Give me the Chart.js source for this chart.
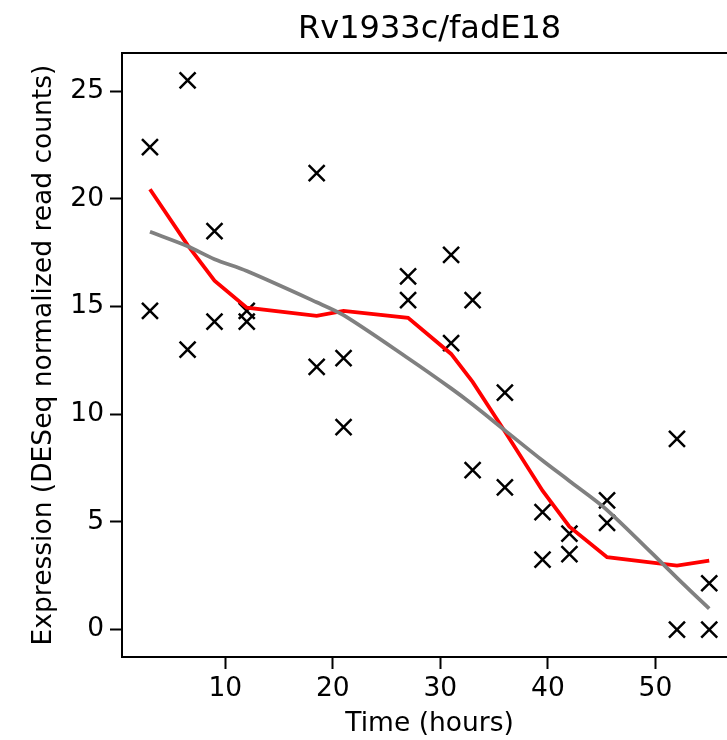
<!DOCTYPE html>
<html>
<head>
<meta charset="utf-8">
<script src="https://cdn.jsdelivr.net/npm/chart.js@4.4.1/dist/chart.umd.min.js"></script>
<style>
  html, body { margin: 0; padding: 0; background: #fff; overflow: hidden; }
  #wrap { width: 751px; height: 740px; }
</style>
</head>
<body>
<div id="wrap"><canvas id="chart" width="751" height="740"></canvas></div>
<script>
// sample times (hours)
const timeHours = [3, 6.5, 9, 12, 18.5, 21, 27, 31, 33, 36, 39.5, 42, 45.5, 52, 55];
// two replicates of expression per time point
const replicateA = [22.4, 25.5, 18.5, 14.8, 21.2, 12.6, 16.4, 17.4, 15.3, 11.0, 5.45, 4.45, 6.0, 8.85, 2.15];
const replicateB = [14.8, 13.0, 14.3, 14.3, 12.2, 9.4, 15.3, 13.3, 7.4, 6.6, 3.25, 3.5, 4.95, 0, 0];
// smoothed fit (red) and trend fit (gray)
const smoothFit = [20.45, 17.85, 16.2, 14.95, 14.57, 14.8, 14.48, 12.8, 11.5, 9.2, 6.45, 4.78, 3.36, 2.97, 3.2];
const trendFit = [18.47, 17.8, 17.2, 16.65, 15.2, 14.6, 12.6, 11.2, 10.45, 9.25, 7.85, 6.9, 5.55, 2.4, 0.97];

const xTicks = [10, 20, 30, 40, 50];
const yTicks = [0, 5, 10, 15, 20, 25];

const toPoints = (xs, ys) => xs.map((x, i) => ({ x: x, y: ys[i] }));

const scatterPts = toPoints(timeHours, replicateA).concat(toPoints(timeHours, replicateB));

const font = { family: 'DejaVu Sans', size: 26.5 };

// top/right spines like matplotlib
const frame = {
  id: 'frame',
  afterDraw(chart) {
    const { ctx, chartArea: a } = chart;
    ctx.save();
    ctx.strokeStyle = '#000';
    ctx.lineWidth = 2;
    ctx.beginPath();
    ctx.moveTo(a.left, a.top);
    ctx.lineTo(a.right, a.top);
    ctx.lineTo(a.right, a.bottom);
    ctx.stroke();
    ctx.restore();
  }
};

new Chart(document.getElementById('chart').getContext('2d'), {
  type: 'scatter',
  data: {
    datasets: [
      {
        label: 'replicates',
        data: scatterPts,
        pointStyle: 'crossRot',
        pointRadius: 11.3,
        pointHoverRadius: 11.3,
        borderColor: '#000',
        borderWidth: 2.5,
        order: 3
      },
      {
        label: 'smooth',
        type: 'line',
        data: toPoints(timeHours, smoothFit),
        borderColor: '#ff0000',
        borderWidth: 3.8,
        pointRadius: 0,
        tension: 0,
        fill: false,
        order: 2
      },
      {
        label: 'trend',
        type: 'line',
        data: toPoints(timeHours, trendFit),
        borderColor: '#808080',
        borderWidth: 3.8,
        pointRadius: 0,
        tension: 0.3,
        fill: false,
        order: 1
      }
    ]
  },
  options: {
    responsive: false,
    animation: false,
    devicePixelRatio: 1,
    layout: { padding: { left: 0, right: 2, top: 0, bottom: 0 } },
    plugins: {
      legend: { display: false },
      tooltip: { enabled: false },
      title: {
        display: true,
        text: 'Rv1933c/fadE18',
        fullSize: false,
        color: '#000',
        font: { family: 'DejaVu Sans', size: 32, weight: 'normal' },
        padding: { top: 10, bottom: 4.6 }
      }
    },
    scales: {
      x: {
        type: 'linear',
        min: 0.4,
        max: 57.6,
        afterBuildTicks: (s) => { s.ticks = xTicks.map(v => ({ value: v })); },
        afterFit: (s) => { s.height = 83; },
        border: { display: true, color: '#000', width: 2 },
        grid: { display: true, drawOnChartArea: false, drawTicks: true, tickLength: 12, tickWidth: 2, tickColor: '#000' },
        ticks: { color: '#000', font: font, padding: 4, maxRotation: 0 },
        title: { display: true, text: 'Time (hours)', color: '#000', font: font, padding: { top: 0, bottom: 0 } }
      },
      y: {
        type: 'linear',
        min: -1.275,
        max: 26.775,
        afterBuildTicks: (s) => { s.ticks = yTicks.map(v => ({ value: v })); },
        afterFit: (s) => { s.width = 122; },
        border: { display: true, color: '#000', width: 2 },
        grid: { display: true, drawOnChartArea: false, drawTicks: true, tickLength: 12, tickWidth: 2, tickColor: '#000' },
        ticks: { color: '#000', font: font, padding: 6 },
        title: { display: true, text: 'Expression (DESeq normalized read counts)', color: '#000', font: font, padding: { top: 28, bottom: 0 } }
      }
    }
  },
  plugins: [frame]
});
</script>
</body>
</html>
